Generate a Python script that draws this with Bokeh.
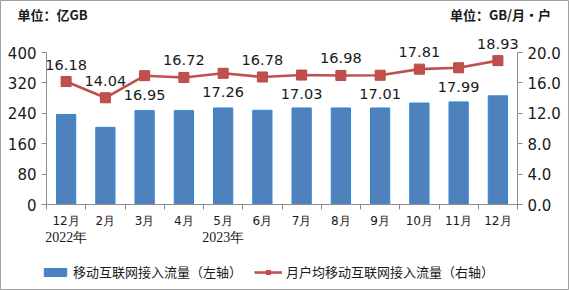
from bokeh.plotting import figure
from bokeh.models import (Range1d, LinearAxis, FixedTicker, Legend, LegendItem,
                          ColumnDataSource, NumeralTickFormatter)
from bokeh.core.properties import value
from bokeh.embed import file_html
from bokeh.resources import INLINE

months = ["12月", "2月", "3月", "4月", "5月", "6月", "7月", "8月", "9月", "10月", "11月", "12月"]
year_labels = ["2022年", "2023年"]
year_at = [1, 5]
traffic = [237, 203, 247, 247, 254, 248, 254, 254, 254, 267, 270, 286]
per_user = [16.18, 14.04, 16.95, 16.72, 17.26, 16.78, 17.03, 16.98, 17.01, 17.81, 17.99, 18.93]
label_side = ["above", "above", "below", "above", "below", "above",
              "below", "above", "below", "above", "below", "above"]
left_ticks = [0, 80, 160, 240, 320, 400]
right_ticks = [0, 4, 8, 12, 16, 20]
unit_left = "单位：亿GB"
unit_right = "单位：GB/月•户"
legend_bar = "移动互联网接入流量（左轴）"
legend_line = "月户均移动互联网接入流量（右轴）"

# ---- layout geometry (pixels) ----
W, H = 569, 290
PL, PR, PT, PB = 46, 517, 52, 204          # plotting box of the chart
LMAX, RMAX = 400.0, 20.0
n = len(months)
xpp = n / (PR - PL)                          # x data units per pixel
ypp = LMAX / (PB - PT)                       # left-axis units per pixel
rpp = RMAX / (PB - PT)                       # right-axis units per pixel


def ydat(canvas_y):
    return (PB - canvas_y) * ypp


def xdat(canvas_x):
    return 0.5 + (canvas_x - PL) * xpp


xs = list(range(1, n + 1))
src = ColumnDataSource(dict(x=xs, traffic=traffic, per_user=per_user))
up = ColumnDataSource(dict(
    x=[x for x, s in zip(xs, label_side) if s == "above"],
    y=[v for v, s in zip(per_user, label_side) if s == "above"],
    t=[f"{v:.2f}" for v, s in zip(per_user, label_side) if s == "above"]))
dn = ColumnDataSource(dict(
    x=[x for x, s in zip(xs, label_side) if s == "below"],
    y=[v for v, s in zip(per_user, label_side) if s == "below"],
    t=[f"{v:.2f}" for v, s in zip(per_user, label_side) if s == "below"]))

p = figure(width=W, height=H, output_backend="svg", toolbar_location=None,
           x_range=Range1d(xdat(0), xdat(W)), y_range=Range1d(ydat(H), ydat(0)),
           min_border=0, x_axis_type=None, y_axis_type=None)
p.title.visible = False
p.outline_line_color = "#a0a0a0"
p.outline_line_width = 1
p.extra_y_ranges = {"right": Range1d(-(H - PB) * rpp, PB * rpp)}

axis_col = "#8c8c8c"
txt_col = "#1a1a1a"
num_font = "DejaVu Sans"
cjk_font = "Noto Sans CJK SC"


def style(ax, size, font=num_font):
    ax.major_label_text_font = font
    ax.major_label_text_font_size = size
    ax.major_label_text_color = txt_col
    ax.minor_tick_line_color = None


# left axis
la = LinearAxis(ticker=FixedTicker(ticks=left_ticks), bounds=(0, LMAX), fixed_location=0.5)
style(la, "15px")
la.axis_line_color = axis_col
la.major_tick_line_color = axis_col
la.major_tick_out = 5
la.major_tick_in = 0
la.major_label_standoff = 5
p.add_layout(la, "left")

# right axis
ra = LinearAxis(y_range_name="right", ticker=FixedTicker(ticks=right_ticks),
                formatter=NumeralTickFormatter(format="0.0"), bounds=(0, RMAX),
                fixed_location=n + 0.5)
style(ra, "15px")
ra.axis_line_color = axis_col
ra.major_tick_line_color = axis_col
ra.major_tick_out = 5
ra.major_tick_in = 0
ra.major_label_standoff = 5
p.add_layout(ra, "right")

# bottom axis (months)
xa = LinearAxis(ticker=FixedTicker(ticks=xs, minor_ticks=[x - 0.5 for x in xs] + [n + 0.5]),
                major_label_overrides={x: m for x, m in zip(xs, months)},
                bounds=(0.5, n + 0.5), fixed_location=0)
style(xa, "12px")
xa.axis_line_color = axis_col
xa.major_tick_line_color = None
xa.major_tick_out = 0
xa.major_tick_in = 0
xa.minor_tick_line_color = axis_col
xa.minor_tick_out = 5
xa.minor_tick_in = 0
xa.major_label_standoff = 4
p.add_layout(xa, "below")

# second bottom axis (years)
ya = LinearAxis(ticker=FixedTicker(ticks=year_at),
                major_label_overrides={x: y for x, y in zip(year_at, year_labels)},
                fixed_location=ydat(229))
style(ya, "14px", "Liberation Serif")
ya.axis_line_color = None
ya.major_tick_line_color = None
ya.major_tick_out = 0
ya.major_tick_in = 0
ya.major_label_standoff = 0
p.add_layout(ya, "below")

# top axis carrying the unit captions
cap_x = [xdat(52), xdat(500)]
ta = LinearAxis(ticker=FixedTicker(ticks=cap_x),
                major_label_overrides={cap_x[0]: unit_left, cap_x[1]: unit_right},
                fixed_location=ydat(23))
style(ta, "13px", cjk_font)
ta.major_label_text_font_style = "bold"
ta.axis_line_color = None
ta.major_tick_line_color = None
ta.major_tick_out = 0
ta.major_tick_in = 0
ta.major_label_standoff = 0
p.add_layout(ta, "above")

bars = p.vbar(x="x", top="traffic", bottom=0, width=0.49, source=src,
              fill_color="#4F81BD", line_color="#2E86D8", line_width=1)
ln = p.line(x="x", y="per_user", source=src, y_range_name="right",
            line_color="#C0504D", line_width=2.6)
mk = p.scatter(x="x", y="per_user", source=src, y_range_name="right", marker="square",
               size=10, fill_color="#C0504D", line_color="#B94845")

p.text(x="x", y="y", text="t", source=up, y_range_name="right", text_align="center",
       text_baseline="alphabetic", y_offset=-17, text_font=value(num_font),
       text_font_size="14.5px", text_color=txt_col)
p.text(x="x", y="y", text="t", source=dn, y_range_name="right", text_align="center",
       text_baseline="top", y_offset=14, text_font=value(num_font),
       text_font_size="14.5px", text_color=txt_col)

legend = Legend(items=[LegendItem(label=legend_bar, renderers=[bars]),
                       LegendItem(label=legend_line, renderers=[ln, mk])],
                location=(41, H - 281), orientation="horizontal", glyph_width=28, glyph_height=10,
                label_standoff=4, spacing=12, padding=0, margin=0,
                border_line_color=None, background_fill_alpha=0,
                label_text_font=cjk_font, label_text_font_size="13px",
                label_text_color=txt_col)
p.add_layout(legend, "center")

open("out.html", "w").write(file_html(p, INLINE))
